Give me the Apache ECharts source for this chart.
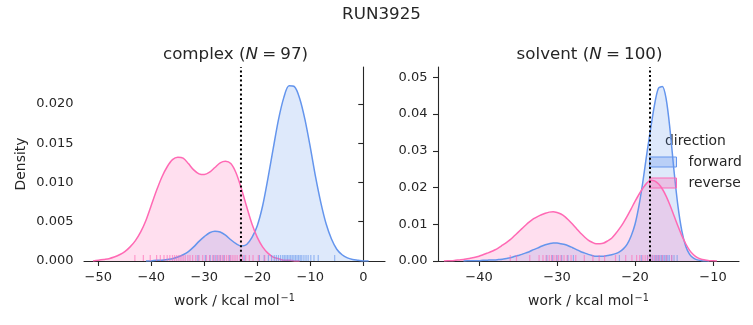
<!DOCTYPE html>
<html>
<head>
<meta charset="utf-8">
<script src="https://cdn.jsdelivr.net/npm/echarts@6/dist/echarts.min.js"></script>
<style>
  html, body { margin: 0; padding: 0; background: #fff; }
  #chart { width: 753px; height: 325px; }
</style>
</head>
<body>
<div id="chart"></div>
<script>
// Work distributions for RUN3925, forward vs reverse, per phase.
const suptitle = 'RUN3925';
const phases = ['complex', 'solvent'];
const sampleCounts = [97, 100];
const directions = ['forward', 'reverse'];

// Axis ranges and ticks
const xRanges = [[-52.7, 4.1], [-45.26, -6.67]];
const yMax = [0.0247, 0.0528];
const xTicks = [[-50, -40, -30, -20, -10, 0], [-40, -30, -20, -10]];
const yTicks = [[0, 0.005, 0.01, 0.015, 0.02], [0, 0.01, 0.02, 0.03, 0.04, 0.05]];
const yDecimals = [3, 2];

// Free energy estimate marker (dotted line) per phase
const estimate = [-23.08, -18.08];

// Density curves, sampled on an even work grid (start, step, densities)
// complex
const cxFwdStart = -41, cxFwdStep = 1;
const cxFwdDensity = [0, 0, 0.0001, 0.0001, 0.0002, 0.0003, 0.0005, 0.0008, 0.0012, 0.0018, 0.0025, 0.0031, 0.0036, 0.0038, 0.0037, 0.0033, 0.0027, 0.0022, 0.0019, 0.0021, 0.0030, 0.0045, 0.0070, 0.0105, 0.0143, 0.0180, 0.0208, 0.0223, 0.0222, 0.0207, 0.0180, 0.0145, 0.0107, 0.0074, 0.0047, 0.0028, 0.0015, 0.0008, 0.0004, 0.0002, 0.0001, 0, 0];
const cxRevStart = -51, cxRevStep = 1;
const cxRevDensity = [0, 0.0001, 0.0002, 0.0003, 0.0005, 0.0008, 0.0012, 0.0018, 0.0026, 0.0037, 0.0052, 0.0071, 0.0090, 0.0107, 0.0120, 0.0129, 0.0132, 0.0131, 0.0124, 0.0116, 0.0111, 0.0110, 0.0113, 0.0119, 0.0125, 0.0127, 0.0124, 0.0112, 0.0092, 0.0069, 0.0047, 0.0030, 0.0018, 0.0010, 0.0005, 0.0003, 0.0001, 0.0001, 0, 0];
// solvent
const svFwdStart = -42, svFwdStep = 0.5;
const svFwdDensity = [0, 0.0001, 0.0001, 0.0001, 0.0001, 0.0002, 0.0002, 0.0003, 0.0003, 0.0004, 0.0005, 0.0007, 0.0009, 0.0012, 0.0015, 0.0018, 0.0022, 0.0026, 0.0031, 0.0035, 0.0040, 0.0044, 0.0047, 0.0049, 0.0049, 0.0047, 0.0045, 0.0041, 0.0036, 0.0031, 0.0026, 0.0022, 0.0018, 0.0015, 0.0013, 0.0013, 0.0013, 0.0015, 0.0017, 0.0020, 0.0025, 0.0033, 0.0046, 0.0068, 0.0100, 0.0150, 0.0215, 0.0290, 0.0360, 0.0425, 0.0470, 0.0475, 0.0440, 0.0355, 0.0245, 0.0150, 0.0082, 0.0040, 0.0018, 0.0008, 0.0003, 0.0001, 0, 0];
const svRevStart = -44.5, svRevStep = 0.5;
const svRevDensity = [0, 0.0001, 0.0001, 0.0002, 0.0003, 0.0004, 0.0006, 0.0008, 0.0010, 0.0013, 0.0017, 0.0021, 0.0025, 0.0030, 0.0036, 0.0043, 0.0050, 0.0058, 0.0068, 0.0078, 0.0088, 0.0098, 0.0107, 0.0115, 0.0121, 0.0126, 0.0130, 0.0133, 0.0134, 0.0132, 0.0128, 0.0121, 0.0111, 0.0100, 0.0088, 0.0076, 0.0066, 0.0057, 0.0051, 0.0047, 0.0047, 0.0049, 0.0055, 0.0062, 0.0074, 0.0088, 0.0104, 0.0122, 0.0142, 0.0162, 0.0181, 0.0198, 0.0212, 0.0220, 0.0218, 0.0210, 0.0196, 0.0176, 0.0151, 0.0123, 0.0095, 0.0069, 0.0047, 0.0029, 0.0017, 0.0009, 0.0005, 0.0003, 0.0001, 0.0001, 0];

// Individual work values (rug)
const cxFwdWork = [-31.2, -29.8, -28.9, -28.2, -27.6, -27.0, -26.3, -25.2, -22.5, -19.6, -18.7, -17.9, -17.3, -16.8, -16.4, -16.0, -15.6, -15.2, -14.9, -14.6, -14.3, -14.0, -13.7, -13.4, -13.1, -12.8, -12.5, -12.2, -11.9, -11.6, -11.2, -10.8, -10.4, -9.9, -9.3, -8.5, -5.4];
const cxRevWork = [-43.1, -41.5, -40.2, -39.0, -38.3, -37.6, -37.0, -36.5, -36.0, -35.6, -35.2, -34.8, -34.4, -34.0, -33.6, -33.1, -32.7, -32.2, -31.6, -31.0, -30.3, -29.6, -29.0, -28.4, -27.9, -27.4, -27.0, -26.6, -26.2, -25.8, -25.4, -25.0, -24.6, -24.2, -23.8, -23.3, -22.8, -22.2, -21.5, -20.8, -19.8, -18.6];
const svFwdWork = [-31.3, -30.6, -30.0, -29.4, -28.6, -27.9, -22.0, -19.2, -18.4, -18.0, -17.7, -17.4, -17.2, -17.0, -16.8, -16.6, -16.4, -16.2, -16.0, -15.8, -15.6, -15.3, -15.0, -14.6];
const svRevWork = [-36.0, -35.2, -33.5, -32.3, -31.8, -31.4, -31.0, -30.7, -30.4, -30.1, -29.8, -29.5, -29.1, -28.7, -28.2, -27.6, -26.5, -25.4, -24.6, -23.9, -22.5, -21.2, -20.4, -19.8, -19.4, -19.0, -18.7, -18.4, -18.1, -17.8, -17.5, -17.2, -16.9, -16.5, -16.0, -15.3];

// Pair each density with its grid position
const onGrid = (start, step, dens) => dens.map((d, i) => [start + step * i, d]);

const curves = [
  { forward: onGrid(cxFwdStart, cxFwdStep, cxFwdDensity), reverse: onGrid(cxRevStart, cxRevStep, cxRevDensity),
    rug: { forward: cxFwdWork, reverse: cxRevWork } },
  { forward: onGrid(svFwdStart, svFwdStep, svFwdDensity), reverse: onGrid(svRevStart, svRevStep, svRevDensity),
    rug: { forward: svFwdWork, reverse: svRevWork } }
];

const FONT = 'DejaVu Sans';
const INK = '#262626';
const TICK_FS = 13;
const LABEL_FS = 13.9;
const TITLE_FS = 16.7;
const colors = { forward: '#6495ED', reverse: '#FF69B4' };
const fills = { forward: 'rgba(100,149,237,0.3)', reverse: 'rgba(255,105,180,0.3)' };
const rugColors = { forward: 'rgba(100,149,237,0.75)', reverse: 'rgba(255,105,180,0.75)' };

const gridLeft = [84, 438];
const gridTop = 67, gridW = 301, gridH = 194;

const minus = s => String(s).replace('-', '\u2212');

const grids = [], xAxes = [], yAxes = [], series = [], titles = [];

titles.push({
  text: suptitle, left: 376.5, top: 1, textAlign: 'center',
  textStyle: { fontFamily: FONT, fontSize: TITLE_FS, fontWeight: 'normal', color: INK }
});

phases.forEach((phase, p) => {
  grids.push({ left: gridLeft[p], top: gridTop, width: gridW, height: gridH });

  titles.push({
    text: phase + ' ({i|N}\u2005=\u2005' + sampleCounts[p] + ')',
    left: gridLeft[p] + gridW / 2 - 4, top: 41, textAlign: 'center',
    textStyle: {
      fontFamily: FONT, fontSize: TITLE_FS, fontWeight: 'normal', color: INK,
      rich: { i: { fontFamily: FONT, fontSize: TITLE_FS, fontStyle: 'italic', color: INK } }
    }
  });

  xAxes.push({
    type: 'value', gridIndex: p, min: xRanges[p][0], max: xRanges[p][1],
    name: 'work / kcal mol{sup|\u22121}', nameLocation: 'middle', nameGap: 32,
    nameTextStyle: {
      fontFamily: FONT, fontSize: LABEL_FS, color: INK, lineHeight: 16,
      rich: { sup: { fontFamily: FONT, fontSize: 9.7, color: INK, verticalAlign: 'top', lineHeight: 10, padding: [0, 0, 0, 1] } }
    },
    splitLine: { show: false },
    axisLine: { show: true, onZero: false, lineStyle: { color: INK, width: 1.1 } },
    axisTick: { show: true, length: 5, customValues: xTicks[p], lineStyle: { color: INK, width: 1.1 } },
    axisLabel: {
      show: true, margin: 10.5, customValues: xTicks[p],
      fontFamily: FONT, fontSize: TICK_FS, color: INK,
      formatter: v => minus(v)
    }
  });

  yAxes.push({
    type: 'value', gridIndex: p, min: 0, max: yMax[p],
    name: p === 0 ? 'Density' : '', nameLocation: 'middle', nameGap: 56,
    nameTextStyle: { fontFamily: FONT, fontSize: LABEL_FS, color: INK },
    splitLine: { show: false },
    axisLine: { show: true, lineStyle: { color: INK, width: 1.1 } },
    axisTick: { show: true, length: 5, customValues: yTicks[p], lineStyle: { color: INK, width: 1.1 } },
    axisLabel: {
      show: true, margin: 10.5, customValues: yTicks[p],
      fontFamily: FONT, fontSize: TICK_FS, color: INK,
      formatter: v => Number(v).toFixed(yDecimals[p])
    }
  });

  const c = curves[p];
  directions.forEach(dir => {
    series.push({
      name: dir, type: 'line', xAxisIndex: p, yAxisIndex: p,
      data: c[dir],
      smooth: 0.3, showSymbol: false, symbol: 'none', silent: true,
      lineStyle: { color: colors[dir], width: 1.5 },
      itemStyle: { color: colors[dir] },
      areaStyle: { color: fills[dir], origin: 'start' },
      z: 2
    });
  });

  directions.forEach(dir => {
    series.push({
      name: dir, type: 'scatter', xAxisIndex: p, yAxisIndex: p,
      data: c.rug[dir].map(v => [v, 0]),
      symbol: 'rect', symbolSize: [1.2, 6], symbolOffset: [0, -3], silent: true,
      itemStyle: { color: rugColors[dir] },
      z: 3
    });
  });

  series.push({
    name: 'estimate', type: 'line', xAxisIndex: p, yAxisIndex: p,
    data: [[estimate[p], 0], [estimate[p], yMax[p]]],
    symbol: 'none', silent: true,
    lineStyle: { color: '#000', width: 2, type: [2, 2.6] },
    z: 4
  });
});

// Legend heading
const graphic = [{
  type: 'text', left: 665, top: 134, silent: true,
  style: { text: 'direction', fontFamily: FONT, fontSize: LABEL_FS, fill: INK }
}];

const chart = echarts.init(document.getElementById('chart'), null, { renderer: 'canvas' });
chart.setOption({
  animation: false,
  backgroundColor: '#fff',
  textStyle: { fontFamily: FONT },
  title: titles,
  grid: grids,
  xAxis: xAxes,
  yAxis: yAxes,
  series: series,
  graphic: graphic,
  legend: {
    orient: 'vertical', left: 649, top: 155, padding: 0, selectedMode: false,
    itemWidth: 27, itemHeight: 10, itemGap: 7, icon: 'rect',
    textStyle: { fontFamily: FONT, fontSize: LABEL_FS, color: INK, padding: [0, 0, 0, 7] },
    data: directions.map(d => ({
      name: d, icon: 'rect',
      itemStyle: { color: fills[d], borderColor: colors[d], borderWidth: 1 }
    }))
  }
});
</script>
</body>
</html>
